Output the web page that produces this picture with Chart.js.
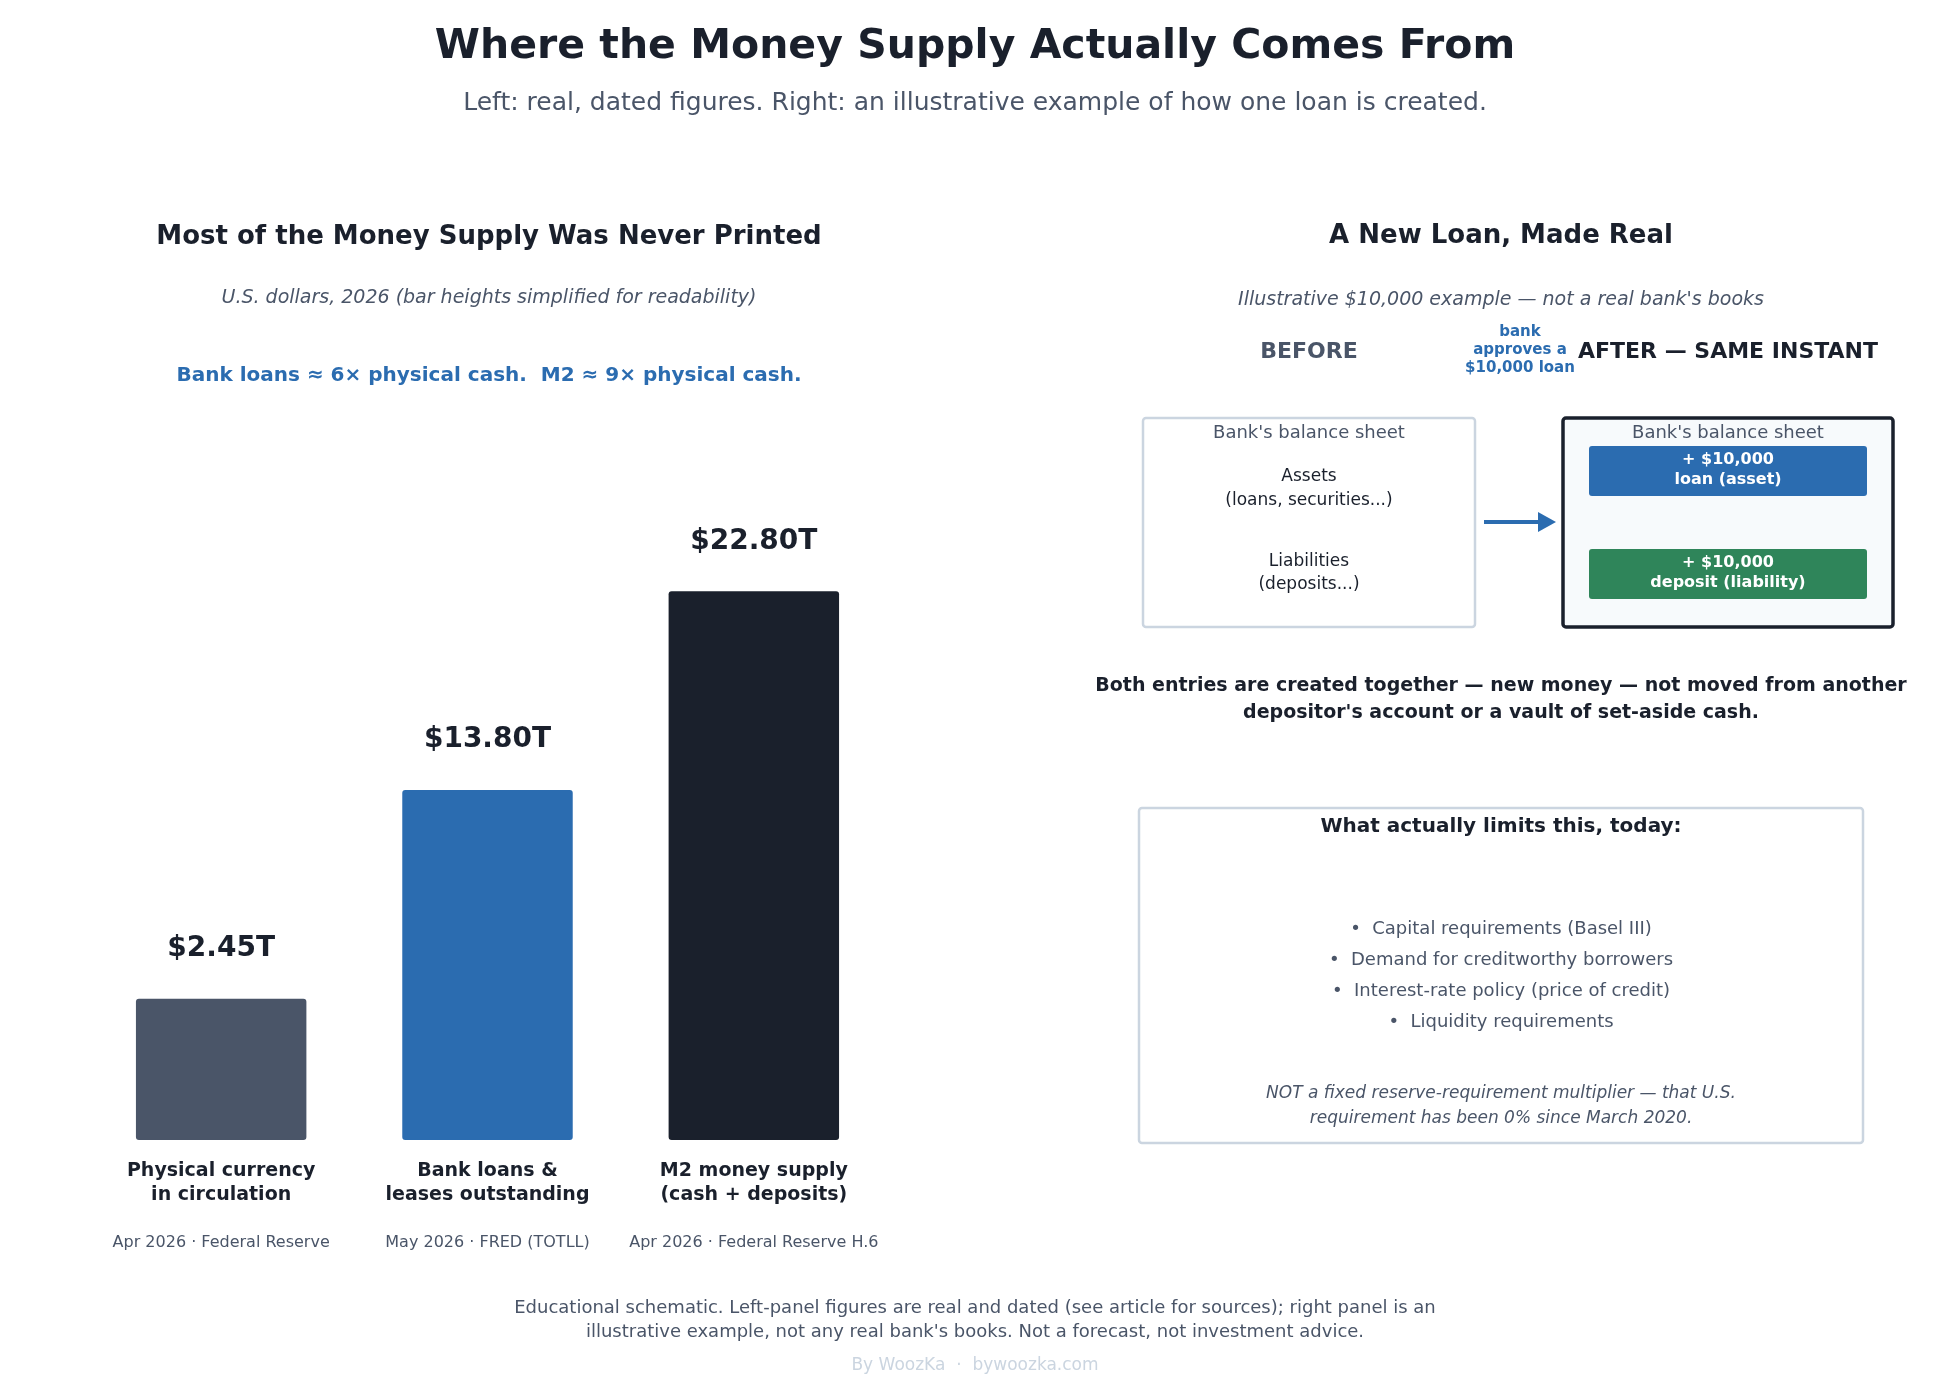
<!DOCTYPE html><html><head><meta charset="utf-8">
<script src="https://cdn.jsdelivr.net/npm/chart.js@4"></script>
<style>html,body{margin:0;padding:0;background:#fff}#w{width:1950px;height:1380px}</style></head>
<body><div id="w"><canvas id="c"></canvas></div>
<script>
const categories=[["Physical currency","in circulation"],["Bank loans &","leases outstanding"],["M2 money supply","(cash + deposits)"]];
const sources=["Apr 2026 · Federal Reserve","May 2026 · FRED (TOTLL)","Apr 2026 · Federal Reserve H.6"];
const actualValues=[2.45,13.80,22.80];
const displayHeights=[5.87,14.54,22.80];
const barColors=["#4a5568","#2b6cb0","#1a202c"];
const bullets=["Capital requirements (Basel III)","Demand for creditworthy borrowers","Interest-rate policy (price of credit)","Liquidity requirements"];
const F="'DejaVu Sans', sans-serif";
function t(ctx,s,x,y,font,col,al){ctx.font=font+" "+F;ctx.fillStyle=col;ctx.textAlign=al||"center";ctx.textBaseline="middle";ctx.fillText(s,x,y);}
function rr(ctx,x,y,w,h,r,fill,stroke,lw){ctx.beginPath();ctx.roundRect(x,y,w,h,r);if(fill){ctx.fillStyle=fill;ctx.fill();}if(stroke){ctx.strokeStyle=stroke;ctx.lineWidth=lw;ctx.stroke();}}
const deco={id:"deco",afterDatasetsDraw(ch){const ctx=ch.ctx;ctx.save();
const D="#1a202c",G="#4a5568",B="#2b6cb0";
const meta=ch.getDatasetMeta(0);
meta.data.forEach((b,i)=>{
t(ctx,"$"+actualValues[i].toFixed(2)+"T",b.x,b.y-50,"bold 28px",D);
t(ctx,categories[i][0],b.x,1171,"bold 19px",D);t(ctx,categories[i][1],b.x,1195,"bold 19px",D);
t(ctx,sources[i],b.x,1243,"16px",G);});
t(ctx,"Where the Money Supply Actually Comes From",975,47,"bold 41px",D);
t(ctx,"Left: real, dated figures. Right: an illustrative example of how one loan is created.",975,103,"25px",G);
ctx.translate(0,-4);
t(ctx,"Most of the Money Supply Was Never Printed",489,241,"bold 26px",D);
t(ctx,"U.S. dollars, 2026 (bar heights simplified for readability)",489,302,"italic 19px",G);
t(ctx,"Bank loans ≈ 6× physical cash.  M2 ≈ 9× physical cash.",489,380,"bold 20px",B);
ctx.translate(-8,-2);
t(ctx,"A New Loan, Made Real",1509,242,"bold 26px",D);
t(ctx,"Illustrative $10,000 example — not a real bank's books",1509,306,"italic 19px",G);
t(ctx,"BEFORE",1317,358,"bold 22px",G);
t(ctx,"AFTER — SAME INSTANT",1736,358,"bold 22px",D);
t(ctx,"bank",1528,338,"bold 15px",B);t(ctx,"approves a",1528,356,"bold 15px",B);t(ctx,"$10,000 loan",1528,374,"bold 15px",B);
rr(ctx,1151,424,332,209,3,"#fff","#cbd5e0",2.5);
rr(ctx,1571,424,330,209,3,"#f7fafc","#1a202c",3.5);
t(ctx,"Bank's balance sheet",1317,439,"18px",G);t(ctx,"Bank's balance sheet",1736,439,"18px",G);
t(ctx,"Assets",1317,483,"17px",D);t(ctx,"(loans, securities...)",1317,507,"17px",D);
t(ctx,"Liabilities",1317,568,"17px",D);t(ctx,"(deposits...)",1317,591,"17px",D);
rr(ctx,1597,452,278,50,3,B);rr(ctx,1597,555,278,50,3,"#2f855a");
t(ctx,"+ $10,000",1736,466,"bold 16px","#fff");t(ctx,"loan (asset)",1736,486,"bold 16px","#fff");
t(ctx,"+ $10,000",1736,569,"bold 16px","#fff");t(ctx,"deposit (liability)",1736,589,"bold 16px","#fff");
ctx.strokeStyle=B;ctx.lineWidth=4;ctx.beginPath();ctx.moveTo(1492,528);ctx.lineTo(1548,528);ctx.stroke();
ctx.fillStyle=B;ctx.beginPath();ctx.moveTo(1564,528);ctx.lineTo(1546,518);ctx.lineTo(1546,538);ctx.closePath();ctx.fill();
t(ctx,"Both entries are created together — new money — not moved from another",1509,692,"bold 19px",D);
t(ctx,"depositor's account or a vault of set-aside cash.",1509,719,"bold 19px",D);
rr(ctx,1147,814,724,335,3,"#fff","#cbd5e0",2.5);
t(ctx,"What actually limits this, today:",1509,833,"bold 20px",D);
bullets.forEach((s,i)=>t(ctx,"•  "+s,1509,935+i*31,"18px",G));
t(ctx,"NOT a fixed reserve-requirement multiplier — that U.S.",1509,1100,"italic 17px",G);
t(ctx,"requirement has been 0% since March 2020.",1509,1125,"italic 17px",G);
ctx.translate(8,0);
t(ctx,"Educational schematic. Left-panel figures are real and dated (see article for sources); right panel is an",975,1314,"18px",G);
t(ctx,"illustrative example, not any real bank's books. Not a forecast, not investment advice.",975,1338,"18px",G);
t(ctx,"By WoozKa  ·  bywoozka.com",975,1372,"17px","#cbd5e0");
ctx.restore();}};
new Chart(document.getElementById("c"),{type:"bar",
data:{labels:categories,datasets:[{data:displayHeights,backgroundColor:barColors,borderRadius:3,borderSkipped:false,categoryPercentage:1,barPercentage:0.64}]},
options:{responsive:true,maintainAspectRatio:false,animation:false,devicePixelRatio:1,
layout:{padding:{left:88,right:1063,top:418,bottom:240}},
plugins:{legend:{display:false},tooltip:{enabled:false}},
scales:{x:{display:false},y:{display:false,min:0,max:30}}},plugins:[deco]});
</script></body></html>
